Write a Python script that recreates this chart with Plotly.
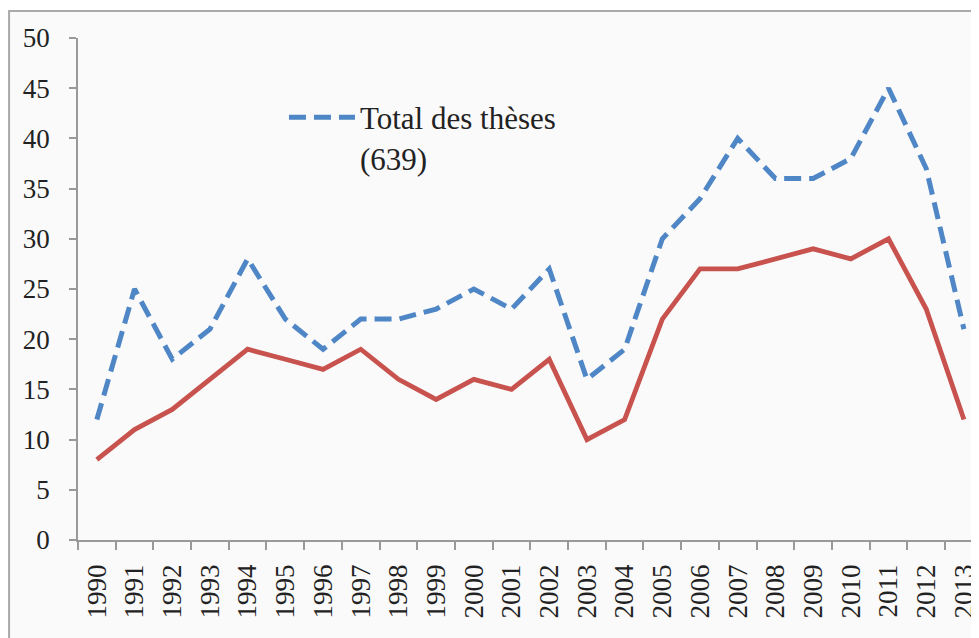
import plotly.graph_objects as go

years = [str(y) for y in range(1990, 2014)]
total_theses = [12, 25, 18, 21, 28, 22, 19, 22, 22, 23, 25, 23, 27, 16, 19, 30, 34, 40, 36, 36, 38, 45, 37, 21]
second_series = [8, 11, 13, 16, 19, 18, 17, 19, 16, 14, 16, 15, 18, 10, 12, 22, 27, 27, 28, 29, 28, 30, 23, 12]
y_ticks = [0, 5, 10, 15, 20, 25, 30, 35, 40, 45, 50]

FONT = "Liberation Serif, DejaVu Serif, serif"

fig = go.Figure()
fig.add_trace(go.Scatter(
    x=years, y=total_theses, mode="lines",
    name="Total des thèses<br>(639)",
    line=dict(color="#4F86C6", width=5, dash="17px,8px"),
))
fig.add_trace(go.Scatter(
    x=years, y=second_series, mode="lines",
    name="", showlegend=False,
    line=dict(color="#C8524D", width=4.8),
))

fig.update_layout(
    width=971, height=630,
    margin=dict(l=70, r=0, t=30, b=98),
    paper_bgcolor="white",
    plot_bgcolor="rgba(0,0,0,0)",
    font=dict(family=FONT, color="#222222", size=26),
    showlegend=True,
    legend=dict(
        x=0.2286, y=0.895, xanchor="left", yanchor="top",
        bgcolor="rgba(0,0,0,0)", itemwidth=66, valign="top",
        font=dict(size=31, family=FONT),
    ),
    shapes=[dict(
        type="rect", xref="paper", yref="paper",
        x0=-0.0765, x1=1.05, y0=-0.3, y1=1.054,
        line=dict(color="#aaaaaa", width=2),
        fillcolor="#fafafa", layer="below",
    )],
)

fig.update_xaxes(
    type="category", range=[-0.5, 23.4],
    tickson="boundaries", ticks="outside", ticklen=8, tickcolor="#999999", tickwidth=1.5,
    showline=True, linecolor="#999999", linewidth=1.5,
    showgrid=False, zeroline=False,
    tickangle=-90, tickfont=dict(size=27), ticklabelstandoff=12,
)
fig.update_yaxes(
    range=[0, 50], tickvals=y_ticks,
    ticks="outside", ticklen=7, tickcolor="#999999", tickwidth=1.5,
    showline=True, linecolor="#999999", linewidth=1.5,
    showgrid=False, zeroline=False,
    ticklabelstandoff=14, tickfont=dict(size=27),
)

fig.write_html("out.html")
